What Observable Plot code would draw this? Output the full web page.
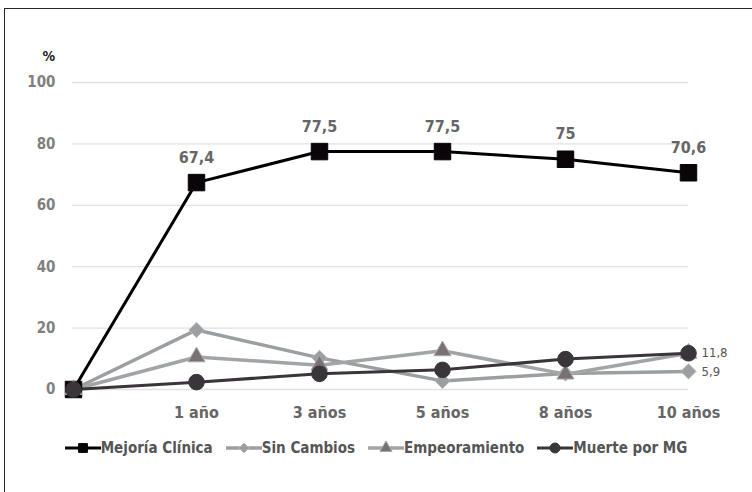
<!DOCTYPE html>
<html>
<head>
<meta charset="utf-8">
<script src="https://cdn.jsdelivr.net/npm/d3@7"></script>
<script src="https://cdn.jsdelivr.net/npm/@observablehq/plot@0.6"></script>
<style>
  html, body { margin: 0; padding: 0; background: #fff; }
  body { width: 752px; height: 492px; position: relative; overflow: hidden;
         font-family: "DejaVu Sans Condensed", "Liberation Sans Narrow", "DejaVu Sans", sans-serif; font-stretch: condensed; }
  #marco { position: absolute; left: 4px; top: 8px; width: 800px; height: 600px;
           border-left: 1.5px solid #2a2a2a; border-top: 1.5px solid #2a2a2a; }
  #grafico { position: absolute; left: 0; top: 0; }
  #leyenda { position: absolute; left: 0; top: 439px; width: 752px; display: flex; justify-content: center;
             align-items: center; gap: 13px; font-size: 15px; font-weight: bold; color: #555; }
  #leyenda .item { display: flex; align-items: center; }
  #leyenda svg { display: block; }
</style>
</head>
<body>
<div id="marco"></div>
<div id="grafico"></div>
<div id="leyenda"></div>
<script>
// Seguimiento de pacientes con MG: porcentaje por estado clínico
const categorias = ["Inicio", "1 año", "3 años", "5 años", "8 años", "10 años"];
const mejoria = [0, 67.4, 77.5, 77.5, 75, 70.6];
const sinCambios = [0, 19.4, 10.3, 2.8, 5.2, 5.9];
const empeoramiento = [0, 10.6, 7.9, 12.6, 5.0, 11.8];
const muerte = [0, 2.4, 5.1, 6.4, 9.9, 11.8];
const series = ["Mejoría Clínica", "Sin Cambios", "Empeoramiento", "Muerte por MG"];
const ticksY = [0, 20, 40, 60, 80, 100];

const estilos = {
  "Mejoría Clínica": {line: "#000000", width: 3, symbol: "square", fill: "#0a0508", stroke: "#0a0508", r: 9.3, rl: 5},
  "Sin Cambios": {line: "#9c9fa1", width: 3.5, symbol: "diamond2", fill: "#9c9fa1", stroke: "#b4b6b8", r: 6.8, rl: 4.5},
  "Empeoramiento": {line: "#a2a5a7", width: 3.5, symbol: "triangle", fill: "#7a7173", stroke: "#a8a8a8", r: 6.3, rl: 4.5},
  "Muerte por MG": {line: "#3a353a", width: 3, symbol: "circle", fill: "#3a353a", stroke: "#3a353a", r: 7.8, rl: 5}
};

const valores = [mejoria, sinCambios, empeoramiento, muerte];
const filas = (nombre, vals) => vals.map((v, i) => ({serie: nombre, cat: categorias[i], valor: v}));
const datos = series.map((s, k) => filas(s, valores[k]));

const coma = v => String(v).replace(".", ",");
const fuente = '"DejaVu Sans Condensed", "Liberation Sans Narrow", "DejaVu Sans", sans-serif';

const marcas = [
  Plot.ruleY(ticksY, {stroke: "#e2e2e2", strokeWidth: 1.3}),
  Plot.axisY({ticks: ticksY, tickSize: 0, tickPadding: 17, fontSize: 15, fontWeight: "bold", fill: "#808080", label: null}),
  Plot.axisX({tickSize: 0, tickPadding: 17, fontSize: 16, fontWeight: "bold", fill: "#666", label: null,
              tickFormat: d => d === "Inicio" ? "" : d}),
  Plot.text(["%"], {frameAnchor: "top-left", dx: -30, dy: -31, fontSize: 14, fontWeight: "bold", fill: "#222"})
];

series.forEach((s, k) => {
  const e = estilos[s];
  marcas.push(Plot.line(datos[k], {x: "cat", y: "valor", stroke: e.line, strokeWidth: e.width, strokeLinejoin: "round"}));
});
series.forEach((s, k) => {
  const e = estilos[s];
  marcas.push(Plot.dot(datos[k], {x: "cat", y: "valor", symbol: () => e.symbol, r: e.r, fill: e.fill, stroke: e.stroke, strokeWidth: 1}));
});

// etiquetas de valor
marcas.push(
  Plot.text(datos[0].slice(1), {x: "cat", y: "valor", text: d => coma(d.valor), dy: -25,
    fontSize: 16, fontWeight: "bold", fill: "#666"}),
  Plot.text([datos[3][5], datos[1][5]], {x: "cat", y: "valor", text: d => coma(d.valor), dx: 13,
    textAnchor: "start", fontSize: 13, fill: "#555"})
);

const grafico = Plot.plot({
  width: 752,
  height: 425,
  marginTop: 82,
  marginBottom: 36,
  marginLeft: 72,
  marginRight: 64,
  style: {fontFamily: fuente, background: "transparent", overflow: "visible"},
  x: {type: "point", domain: categorias, padding: 0},
  y: {domain: [0, 100]},
  marks: marcas
});
document.getElementById("grafico").append(grafico);

// leyenda
const leyenda = document.getElementById("leyenda");
const simbolos = {square: d3.symbolSquare, diamond2: d3.symbolDiamond2, triangle: d3.symbolTriangle, circle: d3.symbolCircle};
series.forEach(s => {
  const e = estilos[s];
  const item = document.createElement("div");
  item.className = "item";
  const ns = "http://www.w3.org/2000/svg";
  const sw = document.createElementNS(ns, "svg");
  sw.setAttribute("width", 36);
  sw.setAttribute("height", 16);
  const ln = document.createElementNS(ns, "line");
  ln.setAttribute("x1", 0); ln.setAttribute("x2", 36);
  ln.setAttribute("y1", 8); ln.setAttribute("y2", 8);
  ln.setAttribute("stroke", e.line); ln.setAttribute("stroke-width", e.width);
  sw.append(ln);
  const p = document.createElementNS(ns, "path");
  p.setAttribute("d", d3.symbol(simbolos[e.symbol], Math.PI * e.rl ** 2)());
  p.setAttribute("transform", "translate(18,8)");
  p.setAttribute("fill", e.fill); p.setAttribute("stroke", e.stroke);
  sw.append(p);
  const t = document.createElement("span");
  t.textContent = s;
  item.append(sw, t);
  leyenda.append(item);
});
</script>
</body>
</html>
